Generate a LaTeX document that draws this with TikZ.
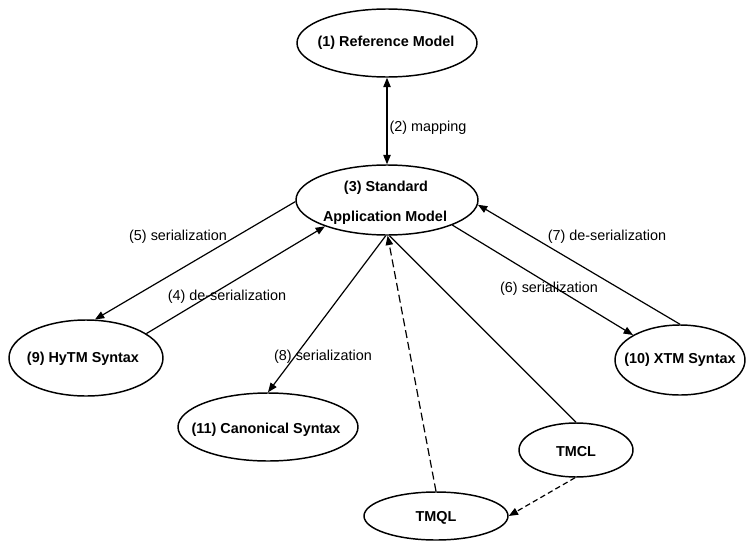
\documentclass[tikz,border=0pt]{standalone}
\usepackage{fontspec}
\setmainfont{Liberation Sans}
\usetikzlibrary{shapes.geometric,arrows.meta}
\begin{document}
\begin{tikzpicture}[x=0.75pt,y=-0.75pt,
  model/.style={draw,ellipse,line width=1.1pt,inner sep=0pt},
  title/.style={font=\fontsize{10.8}{13}\selectfont\bfseries,inner sep=0pt},
  edgelabel/.style={font=\fontsize{10.8}{13}\selectfont,inner sep=0pt},
  link/.style={line width=0.9pt},
  tip/.style={-{Triangle[length=7pt,width=5.5pt]}},
  bothtips/.style={{Triangle[length=7pt,width=5.5pt]}-{Triangle[length=7pt,width=5.5pt]}},
  longdash/.style={dash pattern=on 6pt off 3pt},
  shortdash/.style={dash pattern=on 4pt off 2.5pt}
]
\useasboundingbox[fill=white] (0,0) rectangle (746,543);

% model ellipses
\node[model,minimum width=135pt,minimum height=51pt]   (ref)   at (387,43)  {};
\node[model,minimum width=136.5pt,minimum height=52.5pt] (sam) at (387,200) {};
\node[model,minimum width=115.5pt,minimum height=57pt] (hytm)  at (86,358)  {};
\node[model,minimum width=97.5pt,minimum height=52.5pt] (xtm)  at (680,360) {};
\node[model,minimum width=135pt,minimum height=51pt]   (canon) at (268,427) {};
\node[model,minimum width=85.5pt,minimum height=40.5pt] (tmcl) at (576,450) {};
\node[model,minimum width=108pt,minimum height=36pt]   (tmql)  at (436,516) {};

% node titles
\node[title] (refT)   at (386,43)  {(1) Reference Model};
\node[title] (samA)   at (386,188) {(3) Standard};
\node[title] (samB)   at (385,218) {Application Model};
\node[title] (hytmT)  at (83,359)  {(9) HyTM Syntax};
\node[title] (xtmT)   at (680,360) {(10) XTM Syntax};
\node[title] (canonT) at (266,430) {(11) Canonical Syntax};
\node[title] (tmclT)  at (576,452) {TMCL};
\node[title] (tmqlT)  at (436,518) {TMQL};

% connectors
\draw[link,bothtips] (ref.south) -- (sam.north);
\draw[link,tip] (sam.181) -- (hytm.77);
\draw[link,tip] (hytm.22) -- (sam.203);
\draw[link,tip] (xtm.90) -- (sam.357);
\draw[link,tip] (sam.339) -- (xtm.152);
\draw[link,tip] (sam.268) -- (canon.north);
\draw[link] (tmcl.north) -- (sam.274);
\draw[link,longdash,tip] (tmql.north) -- (sam.271);
\draw[link,shortdash,tip] (tmcl.268) -- (tmql.east);

% connector labels
\node[edgelabel] (l2) at (428,128) {(2) mapping};
\node[edgelabel] (l5) at (178,237) {(5) serialization};
\node[edgelabel] (l4) at (227,297) {(4) de-serialization};
\node[edgelabel] (l7) at (607,237) {(7) de-serialization};
\node[edgelabel] (l6) at (549,289) {(6) serialization};
\node[edgelabel] (l8) at (323,357) {(8) serialization};
\end{tikzpicture}
\end{document}
